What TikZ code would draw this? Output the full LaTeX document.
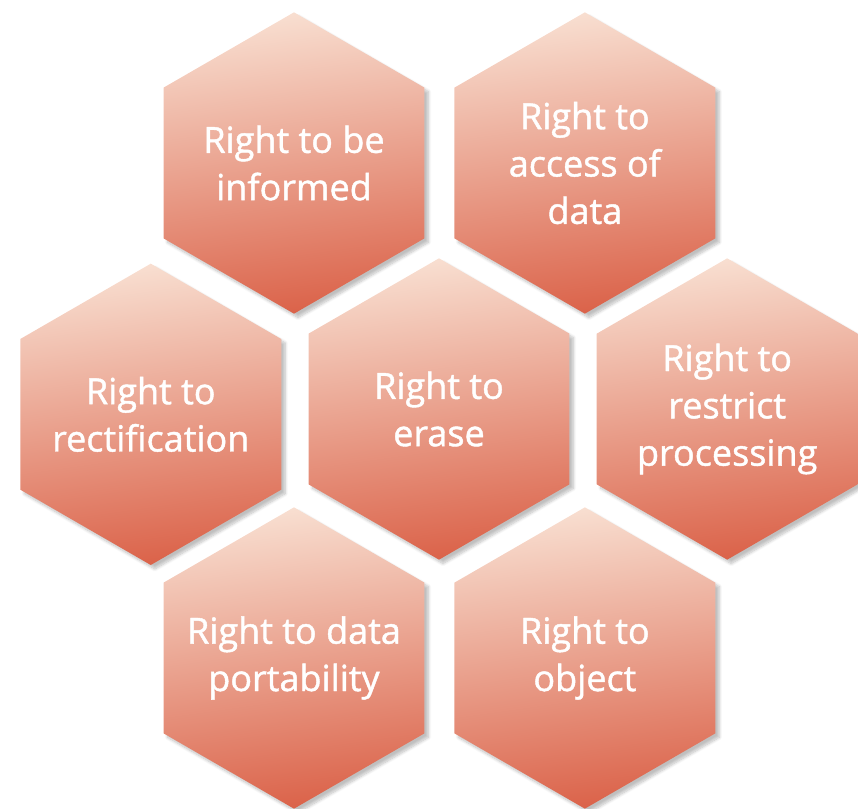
\documentclass[tikz,border=0pt]{standalone}
\usepackage{fontspec}
\setmainfont{Open Sans}
\newfontfamily\hexfont{Open Sans}[FakeBold = 1.2]
\usetikzlibrary{positioning}
\usetikzlibrary{shapes.geometric}
\usetikzlibrary{shadows.blur}

\definecolor{hexlight}{HTML}{F8DED0}
\definecolor{hexmid}{HTML}{EAA289}
\definecolor{hexdark}{HTML}{DB634A}

\tikzset{
	hexcell/.style = {regular polygon, regular polygon sides = 6, shape border rotate = 30,
		minimum size = 226pt, inner sep = -40pt, align = center, text = white,
		font = \hexfont\fontsize{27}{35.5}\selectfont,
		top color = hexlight, middle color = hexmid, bottom color = hexdark, shading angle = 8,
		blur shadow = {shadow xshift = 3pt, shadow yshift = -3pt, shadow blur steps = 8, shadow opacity = 25}}
}

\begin{document}
\begin{tikzpicture}[x = 0.75pt, y = -0.75pt]
			\useasboundingbox (0,0) rectangle (858,809);
			
			\node[hexcell] (informed) at (294,163) {Right to be\\informed};
			\node[hexcell, right = 22pt of informed] (access) {Right to\\access of\\data};
			
			\node[hexcell] (erase) at (439,409) {Right to\\erase};
			\node[hexcell, left = 20pt of erase, yshift = -4pt] (rectify) {Right to\\rectification};
			\node[hexcell, right = 20pt of erase] (restrict) {Right to\\restrict\\processing};
			
			\node[hexcell] (portability) at (294,658) {Right to data\\portability};
			\node[hexcell, right = 22pt of portability] (object) {Right to\\object};
\end{tikzpicture}
\end{document}
